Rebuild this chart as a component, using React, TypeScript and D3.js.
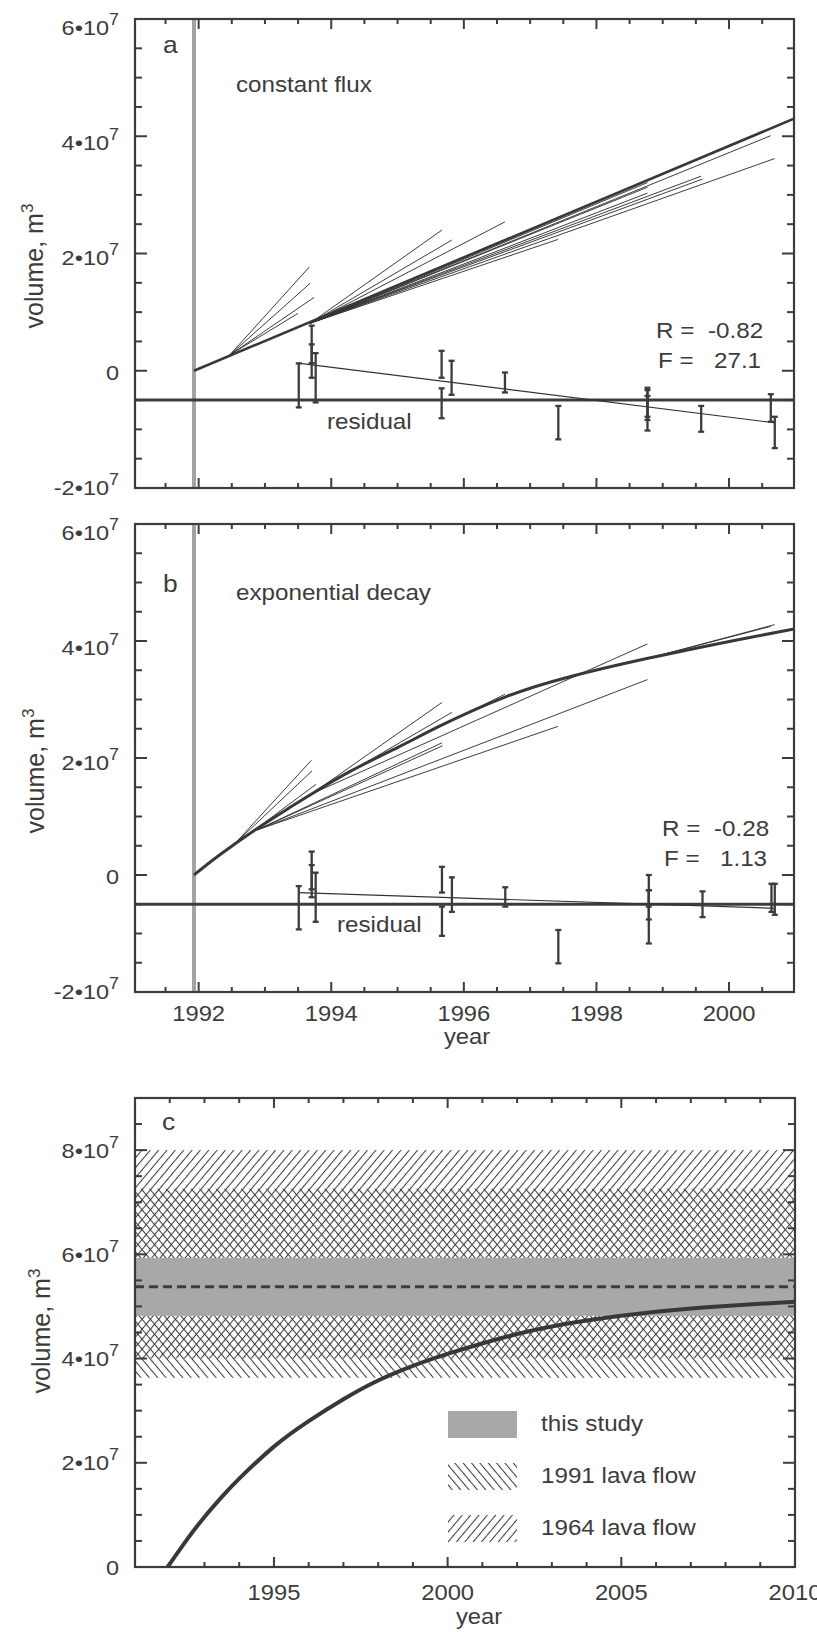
import React from 'react';
import * as d3 from 'd3';

// ---------------- data (volumes in units of 1e7 m^3) ----------------
const eruptionYear = 1991.93;
const residualBase = -0.5;

// panel a: constant flux
const fitA: [number, number][] = [[1991.93, 0], [2001, 4.31]];
const segmentsA: number[][] = [
  [1992.47, 0.27, 1993.67, 1.77],
  [1992.47, 0.27, 1993.68, 1.49],
  [1992.47, 0.27, 1993.74, 1.25],
  [1992.47, 0.27, 1993.5, 0.98],
  [1993.68, 0.81, 1995.67, 2.4],
  [1993.68, 0.81, 1995.82, 2.23],
  [1993.68, 0.81, 1996.62, 2.54],
  [1993.68, 0.81, 1997.42, 2.24],
  [1993.68, 0.81, 1998.77, 3.21],
  [1993.68, 0.81, 1998.77, 3.13],
  [1993.68, 0.81, 1998.77, 3.03],
  [1993.68, 0.81, 1999.58, 3.32],
  [1993.68, 0.81, 1999.6, 3.27],
  [1993.68, 0.81, 2000.63, 4.01],
  [1993.68, 0.81, 2000.69, 3.62],
];
const errA: number[][] = [
  [1993.51, -0.625, 0.126],
  [1993.705, 0.13, 0.77],
  [1993.705, -0.12, 0.45],
  [1993.765, -0.54, 0.3],
  [1995.665, -0.12, 0.34],
  [1995.665, -0.81, -0.3],
  [1995.815, -0.41, 0.17],
  [1996.62, -0.37, -0.03],
  [1997.425, -1.17, -0.6],
  [1998.77, -1.02, -0.29],
  [1998.77, -0.84, -0.33],
  [1998.77, -0.785, -0.43],
  [1999.58, -1.04, -0.6],
  [2000.63, -0.87, -0.4],
  [2000.69, -1.32, -0.785],
];
const resFitA: [number, number][] = [[1993.5, 0.13], [2000.7, -0.89]];
const statsA = ['-0.82', '27.1'];

// panel b: exponential decay
const fitB: [number, number][] = [
  [1991.93, 0], [1992.3, 0.33], [1992.85, 0.77], [1993.3, 1.1], [1993.71, 1.39],
  [1994.3, 1.78], [1995.02, 2.19], [1995.68, 2.57], [1996.64, 3.05], [1997.6, 3.39],
  [1998.76, 3.7], [2000.08, 4.01], [2001, 4.21],
];
const segmentsB: number[][] = [
  [1992.55, 0.54, 1993.7, 1.96],
  [1992.55, 0.54, 1993.71, 1.78],
  [1992.7, 0.65, 1993.77, 1.55],
  [1992.88, 0.77, 1995.67, 2.26],
  [1992.88, 0.77, 1995.68, 2.21],
  [1992.88, 0.77, 1997.42, 2.54],
  [1992.88, 0.77, 1998.77, 3.34],
  [1993.71, 1.39, 1995.67, 2.95],
  [1993.71, 1.39, 1995.82, 2.78],
  [1993.71, 1.39, 1998.77, 3.95],
  [1995.02, 2.19, 1996.62, 3.09],
  [1998.77, 3.7, 2000.63, 4.25],
  [1998.77, 3.7, 2000.69, 4.28],
];
const errB: number[][] = [
  [1993.51, -0.93, -0.19],
  [1993.705, -0.38, 0.4],
  [1993.705, -0.245, 0.17],
  [1993.765, -0.8, 0.04],
  [1995.67, -0.3, 0.14],
  [1995.67, -1.04, -0.54],
  [1995.82, -0.63, -0.04],
  [1996.625, -0.54, -0.21],
  [1997.425, -1.51, -0.94],
  [1998.79, -0.76, 0.0],
  [1998.79, -1.17, -0.26],
  [1998.79, -0.54, -0.26],
  [1999.6, -0.72, -0.28],
  [2000.64, -0.63, -0.15],
  [2000.69, -0.68, -0.15],
];
const resFitB: [number, number][] = [[1993.5, -0.3], [2000.7, -0.57]];
const statsB = ['-0.28', '1.13'];

// panel c
const curveC: [number, number][] = [
  [1991.94, 0], [1992.5, 0.53], [1993, 0.96], [1993.5, 1.345], [1994, 1.695], [1995, 2.31],
  [1996, 2.8], [1997, 3.22], [1998, 3.58], [1999, 3.86], [2000, 4.09], [2002, 4.47],
  [2004, 4.73], [2006, 4.9], [2008, 5.01], [2010, 5.09],
];
const thisStudy = [4.82, 5.93];
const thisStudyMean = 5.38;
const flow1991 = [3.63, 7.26];
const flow1964 = [4.0, 8.0];

const yearTicksAB = [1992, 1994, 1996, 1998, 2000];
const yearTicksC = [1995, 2000, 2005, 2010];
const volTicksAB = [-2, 0, 2, 4, 6];
const volTicksC = [0, 2, 4, 6, 8];
const legendLabels = ['this study', '1991 lava flow', '1964 lava flow'];

// ---------------- styling ----------------
const INK = '#3c3c3c';
const FONT = "'Liberation Sans', Arial, Helvetica, sans-serif";

const xAB = d3.scaleLinear().domain([1991.04, 2000.98]).range([135, 794]);
const yA = d3.scaleLinear().domain([-2, 6]).range([488, 19]);
const yB = d3.scaleLinear().domain([-2, 6]).range([992, 524]);
const xC = d3.scaleLinear().domain([1991, 2010]).range([135, 795]);
const yC = d3.scaleLinear().domain([0, 9]).range([1567, 1098]);

type Sc = d3.ScaleLinear<number, number>;

function Txt({ x, y, size = 22, anchor = 'start', sx = 1.1, children }: any) {
  return (
    <text
      transform={`translate(${x},${y}) scale(${sx},1)`}
      fontSize={size}
      textAnchor={anchor}
      fill={INK}
      fontFamily={FONT}
    >
      {children}
    </text>
  );
}

function VolLabel({ x, y, v }: { x: number; y: number; v: number }) {
  if (v === 0)
    return (
      <Txt x={x} y={y} size={21} anchor="end" sx={1.12}>
        0
      </Txt>
    );
  return (
    <Txt x={x} y={y} size={21} anchor="end" sx={1.12}>
      <tspan>{`${v}•10`}</tspan>
      <tspan fontSize={16} dy={-10}>
        7
      </tspan>
    </Txt>
  );
}

function YTitle({ x, y }: { x: number; y: number }) {
  return (
    <text
      transform={`translate(${x},${y}) rotate(-90)`}
      textAnchor="middle"
      fontSize={25}
      fill={INK}
      fontFamily={FONT}
    >
      volume, m
      <tspan fontSize={17} dy={-10}>
        3
      </tspan>
    </text>
  );
}

function Frame({ xs, ys, xMajor, xMinor, yMajor, yMinor }: { xs: Sc; ys: Sc; xMajor: number[]; xMinor: number[]; yMajor: number[]; yMinor: number[] }) {
  const [L, R] = xs.range();
  const [B, T] = ys.range();
  const els: any[] = [];
  const xt = (t: number, len: number, k: string) => {
    const X = xs(t);
    els.push(<line key={'t' + k} x1={X} x2={X} y1={T} y2={T + len} />);
    els.push(<line key={'b' + k} x1={X} x2={X} y1={B} y2={B - len} />);
  };
  const yt = (v: number, len: number, k: string) => {
    const Y = ys(v);
    els.push(<line key={'l' + k} x1={L} x2={L + len} y1={Y} y2={Y} />);
    els.push(<line key={'r' + k} x1={R} x2={R - len} y1={Y} y2={Y} />);
  };
  xMajor.forEach((t) => xt(t, 10, 'M' + t));
  xMinor.forEach((t) => xt(t, 5, 'm' + t));
  yMajor.forEach((v) => yt(v, 12, 'M' + v));
  yMinor.forEach((v) => yt(v, 7, 'm' + v));
  return (
    <g stroke={INK} strokeWidth={2} fill="none">
      {els}
      <rect x={L} y={T} width={R - L} height={B - T} strokeWidth={2.2} />
    </g>
  );
}

function RatePanel({ id, ys, fit, smooth, segments, err, resFit, stats, letter, letterY, title, titleY, residualY, residualX, statsX, statsY }: any) {
  const [L, R] = xAB.range();
  const [B, T] = ys.range();
  const line = d3
    .line<[number, number]>()
    .x((d) => xAB(d[0]))
    .y((d) => ys(d[1]))
    .curve(smooth ? d3.curveNatural : d3.curveLinear);
  const straight = d3
    .line<[number, number]>()
    .x((d) => xAB(d[0]))
    .y((d) => ys(d[1]));
  const xMajor = yearTicksAB;
  const xMinor = d3.range(1991.5, 2000.99, 0.5).filter((t) => !xMajor.includes(t));
  const yMinor = d3.range(-1.5, 6, 0.5).filter((v) => !volTicksAB.includes(v));
  return (
    <g>
      <defs>
        <clipPath id={id}>
          <rect x={L} y={T} width={R - L} height={B - T} />
        </clipPath>
      </defs>
      <line x1={xAB(eruptionYear)} x2={xAB(eruptionYear)} y1={T} y2={B} stroke="#a3a3a3" strokeWidth={4} />
      <g clipPath={`url(#${id})`} fill="none">
        {segments.map((s: number[], i: number) => (
          <path key={i} d={straight([[s[0], s[1]], [s[2], s[3]]]) || ''} stroke="#333" strokeWidth={0.95} />
        ))}
        <path d={line(fit) || ''} stroke="#383838" strokeWidth={smooth ? 3 : 2.6} />
        <line x1={L} x2={R} y1={ys(residualBase)} y2={ys(residualBase)} stroke={INK} strokeWidth={3} />
        <path d={straight(resFit) || ''} stroke="#333" strokeWidth={1.2} />
        {err.map((e: number[], i: number) => {
          const X = xAB(e[0]);
          return (
            <g key={i} stroke={INK} strokeWidth={2.3}>
              <line x1={X} x2={X} y1={ys(e[1])} y2={ys(e[2])} />
              <line x1={X - 3} x2={X + 3} y1={ys(e[1])} y2={ys(e[1])} />
              <line x1={X - 3} x2={X + 3} y1={ys(e[2])} y2={ys(e[2])} />
            </g>
          );
        })}
      </g>
      <Frame xs={xAB} ys={ys} xMajor={xMajor} xMinor={xMinor} yMajor={volTicksAB} yMinor={yMinor} />
      {volTicksAB.map((v) => (
        <VolLabel key={v} x={119} y={ys(v) + 11.5 + (v - 2) * 1.2} v={v} />
      ))}
      <Txt x={163} y={letterY} size={24}>
        {letter}
      </Txt>
      <Txt x={236} y={titleY} size={22}>
        {title}
      </Txt>
      <Txt x={residualX} y={residualY} size={22}>
        residual
      </Txt>
      <Txt x={statsX} y={statsY} size={22}>R =</Txt>
      <Txt x={statsX + 52} y={statsY} size={22}>{stats[0]}</Txt>
      <Txt x={statsX + 2} y={statsY + 30} size={22}>F =</Txt>
      <Txt x={statsX + 58} y={statsY + 30} size={22}>{stats[1]}</Txt>
    </g>
  );
}

function PanelC() {
  const [L, R] = xC.range();
  const [B, T] = yC.range();
  const line = d3
    .line<[number, number]>()
    .x((d) => xC(d[0]))
    .y((d) => yC(d[1]))
    .curve(d3.curveNatural);
  const xMinor = d3.range(1992, 2010, 1).filter((t) => !yearTicksC.includes(t));
  const yMinor = d3.range(0.5, 9, 0.5).filter((v) => !volTicksC.includes(v));
  const band = (r: number[], fill: string) => (
    <rect x={L} y={yC(r[1])} width={R - L} height={yC(r[0]) - yC(r[1])} fill={fill} />
  );
  const swatchX = 448;
  const swatchW = 69;
  const swatchH = 27;
  const rows = [1411, 1463, 1515];
  const fills = ['#a7a8aa', 'url(#h91)', 'url(#h64)'];
  return (
    <g>
      <defs>
        <clipPath id="clipC">
          <rect x={L} y={T} width={R - L} height={B - T} />
        </clipPath>
        <pattern id="h64" patternUnits="userSpaceOnUse" width={6.4} height={12} patternTransform="rotate(40)">
          <line x1={3.2} y1={-1} x2={3.2} y2={13} stroke="#3a3a3a" strokeWidth={1.05} />
        </pattern>
        <pattern id="h91" patternUnits="userSpaceOnUse" width={6.4} height={12} patternTransform="rotate(-40)">
          <line x1={3.2} y1={-1} x2={3.2} y2={13} stroke="#3a3a3a" strokeWidth={1.05} />
        </pattern>
      </defs>
      <g clipPath="url(#clipC)">
        {band(flow1964, 'url(#h64)')}
        {band(flow1991, 'url(#h91)')}
        {band(thisStudy, '#a7a8aa')}
        <line x1={L} x2={R} y1={yC(thisStudyMean)} y2={yC(thisStudyMean)} stroke={INK} strokeWidth={3} strokeDasharray="9,5" />
        <path d={line(curveC) || ''} fill="none" stroke="#383838" strokeWidth={4} />
      </g>
      <Frame xs={xC} ys={yC} xMajor={yearTicksC} xMinor={xMinor} yMajor={volTicksC} yMinor={yMinor} />
      {volTicksC.map((v) => (
        <VolLabel key={v} x={119} y={yC(v) + 7.5} v={v} />
      ))}
      {yearTicksC.map((t) => (
        <Txt key={t} x={xC(t)} y={1600} size={22} anchor="middle" sx={1.08}>
          {t}
        </Txt>
      ))}
      <Txt x={479} y={1624} size={22} anchor="middle" sx={1.08}>
        year
      </Txt>
      <Txt x={162} y={1130} size={24}>
        c
      </Txt>
      {legendLabels.map((lab, i) => (
        <g key={lab}>
          <rect x={swatchX} y={rows[i]} width={swatchW} height={swatchH} fill={fills[i]} />
          <Txt x={541} y={rows[i] + 20} size={22}>
            {lab}
          </Txt>
        </g>
      ))}
    </g>
  );
}

export default function App() {
  return (
    <div style={{ position: 'absolute', left: 0, top: 0, width: 817, height: 1632, background: '#fff' }}>
      <svg width={817} height={1632} style={{ display: 'block' }}>
        <rect x={0} y={0} width={817} height={1632} fill="#fff" />
        <RatePanel
          id="clipA"
          ys={yA}
          fit={fitA}
          smooth={false}
          segments={segmentsA}
          err={errA}
          resFit={resFitA}
          stats={statsA}
          letter="a"
          letterY={53}
          title="constant flux"
          titleY={92}
          residualX={327}
          residualY={429}
          statsX={656}
          statsY={338}
        />
        <RatePanel
          id="clipB"
          ys={yB}
          fit={fitB}
          smooth={true}
          segments={segmentsB}
          err={errB}
          resFit={resFitB}
          stats={statsB}
          letter="b"
          letterY={592}
          title="exponential decay"
          titleY={600}
          residualX={337}
          residualY={932}
          statsX={662}
          statsY={836}
        />
        {yearTicksAB.map((t) => (
          <Txt key={t} x={xAB(t)} y={1021} size={22} anchor="middle" sx={1.08}>
            {t}
          </Txt>
        ))}
        <Txt x={467} y={1044} size={22} anchor="middle" sx={1.08}>
          year
        </Txt>
        <YTitle x={43} y={266} />
        <YTitle x={44} y={771} />
        <YTitle x={50} y={1331} />
        <PanelC />
      </svg>
    </div>
  );
}
